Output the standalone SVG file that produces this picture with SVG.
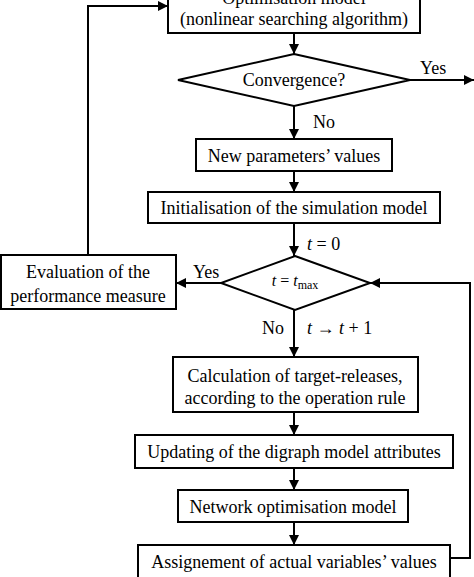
<svg xmlns="http://www.w3.org/2000/svg" width="474" height="577" viewBox="0 0 474 577">
<style>
.b{fill:#fff;stroke:#000;stroke-width:2}
text{font-family:'Liberation Serif','Times New Roman',serif;font-size:18px;fill:#000}
.t{text-anchor:middle}
.c{fill:none;stroke:#000;stroke-width:2}
</style>
<defs>
<marker id="a" viewBox="0 0 10 10" refX="10" refY="5" markerWidth="10" markerHeight="10" markerUnits="userSpaceOnUse" orient="auto">
<path d="M0,0 L10,5 L0,10 Z" fill="#000"/>
</marker>
</defs>
<g id="connectors">
<path class="c" d="M294,33 V54" marker-end="url(#a)"/>
<path class="c" d="M410,80 H474" marker-end="url(#a)"/>
<path class="c" d="M294,106 V139" marker-end="url(#a)"/>
<path class="c" d="M294,171 V192" marker-end="url(#a)"/>
<path class="c" d="M294,223 V256" marker-end="url(#a)"/>
<path class="c" d="M221,283 H176" marker-end="url(#a)"/>
<path class="c" d="M88,255 V6 H168" marker-end="url(#a)"/>
<path class="c" d="M294,310 V357" marker-end="url(#a)"/>
<path class="c" d="M294,412 V435" marker-end="url(#a)"/>
<path class="c" d="M294,468 V490" marker-end="url(#a)"/>
<path class="c" d="M294,522 V545" marker-end="url(#a)"/>
<path class="c" d="M450,558 H470 V283 H370" marker-end="url(#a)"/>
<text x="420" y="74">Yes</text>
<text x="313" y="128">No</text>
<text x="307" y="250"><tspan font-style="italic">t</tspan> = 0</text>
<text x="193" y="278">Yes</text>
<text x="262" y="334">No</text>
<text x="307" y="334"><tspan font-style="italic">t</tspan> → <tspan font-style="italic">t</tspan> + 1</text>
</g>
<g id="n-optim">
<rect class="b" x="168" y="-20" width="252" height="53"/>
<text class="t" x="294" y="4">Optimisation model</text>
<text class="t" x="294" y="25">(nonlinear searching algorithm)</text>
</g>
<g id="n-conv">
<polygon class="b" points="294,54 410,80 294,106 178,80"/>
<text class="t" x="294" y="86">Convergence?</text>
</g>
<g id="n-newpar">
<rect class="b" x="196" y="139" width="196" height="32"/>
<text class="t" x="294" y="162">New parameters’ values</text>
</g>
<g id="n-init">
<rect class="b" x="148" y="192" width="292" height="31"/>
<text class="t" x="294" y="214">Initialisation of the simulation model</text>
</g>
<g id="n-tmax">
<polygon class="b" points="295,256 370,283 295,310 221,283"/>
<text class="t" x="295" y="286" style="font-size:16px"><tspan font-style="italic">t</tspan> = <tspan font-style="italic">t</tspan><tspan style="font-size:12px" dy="3">max</tspan></text>
</g>
<g id="n-eval">
<rect class="b" x="1" y="255" width="175" height="54"/>
<text class="t" x="88" y="278">Evaluation of the</text>
<text class="t" x="88" y="302">performance measure</text>
</g>
<g id="n-calc">
<rect class="b" x="173" y="357" width="245" height="55"/>
<text class="t" x="295" y="382">Calculation of target-releases,</text>
<text class="t" x="295" y="404">according to the operation rule</text>
</g>
<g id="n-update">
<rect class="b" x="135" y="435" width="318" height="33"/>
<text class="t" x="294" y="458">Updating of the digraph model attributes</text>
</g>
<g id="n-network">
<rect class="b" x="178" y="490" width="230" height="32"/>
<text class="t" x="293" y="513">Network optimisation model</text>
</g>
<g id="n-assign">
<rect class="b" x="138" y="545" width="312" height="40"/>
<text class="t" x="294" y="568">Assignement of actual variables’ values</text>
</g>
</svg>
